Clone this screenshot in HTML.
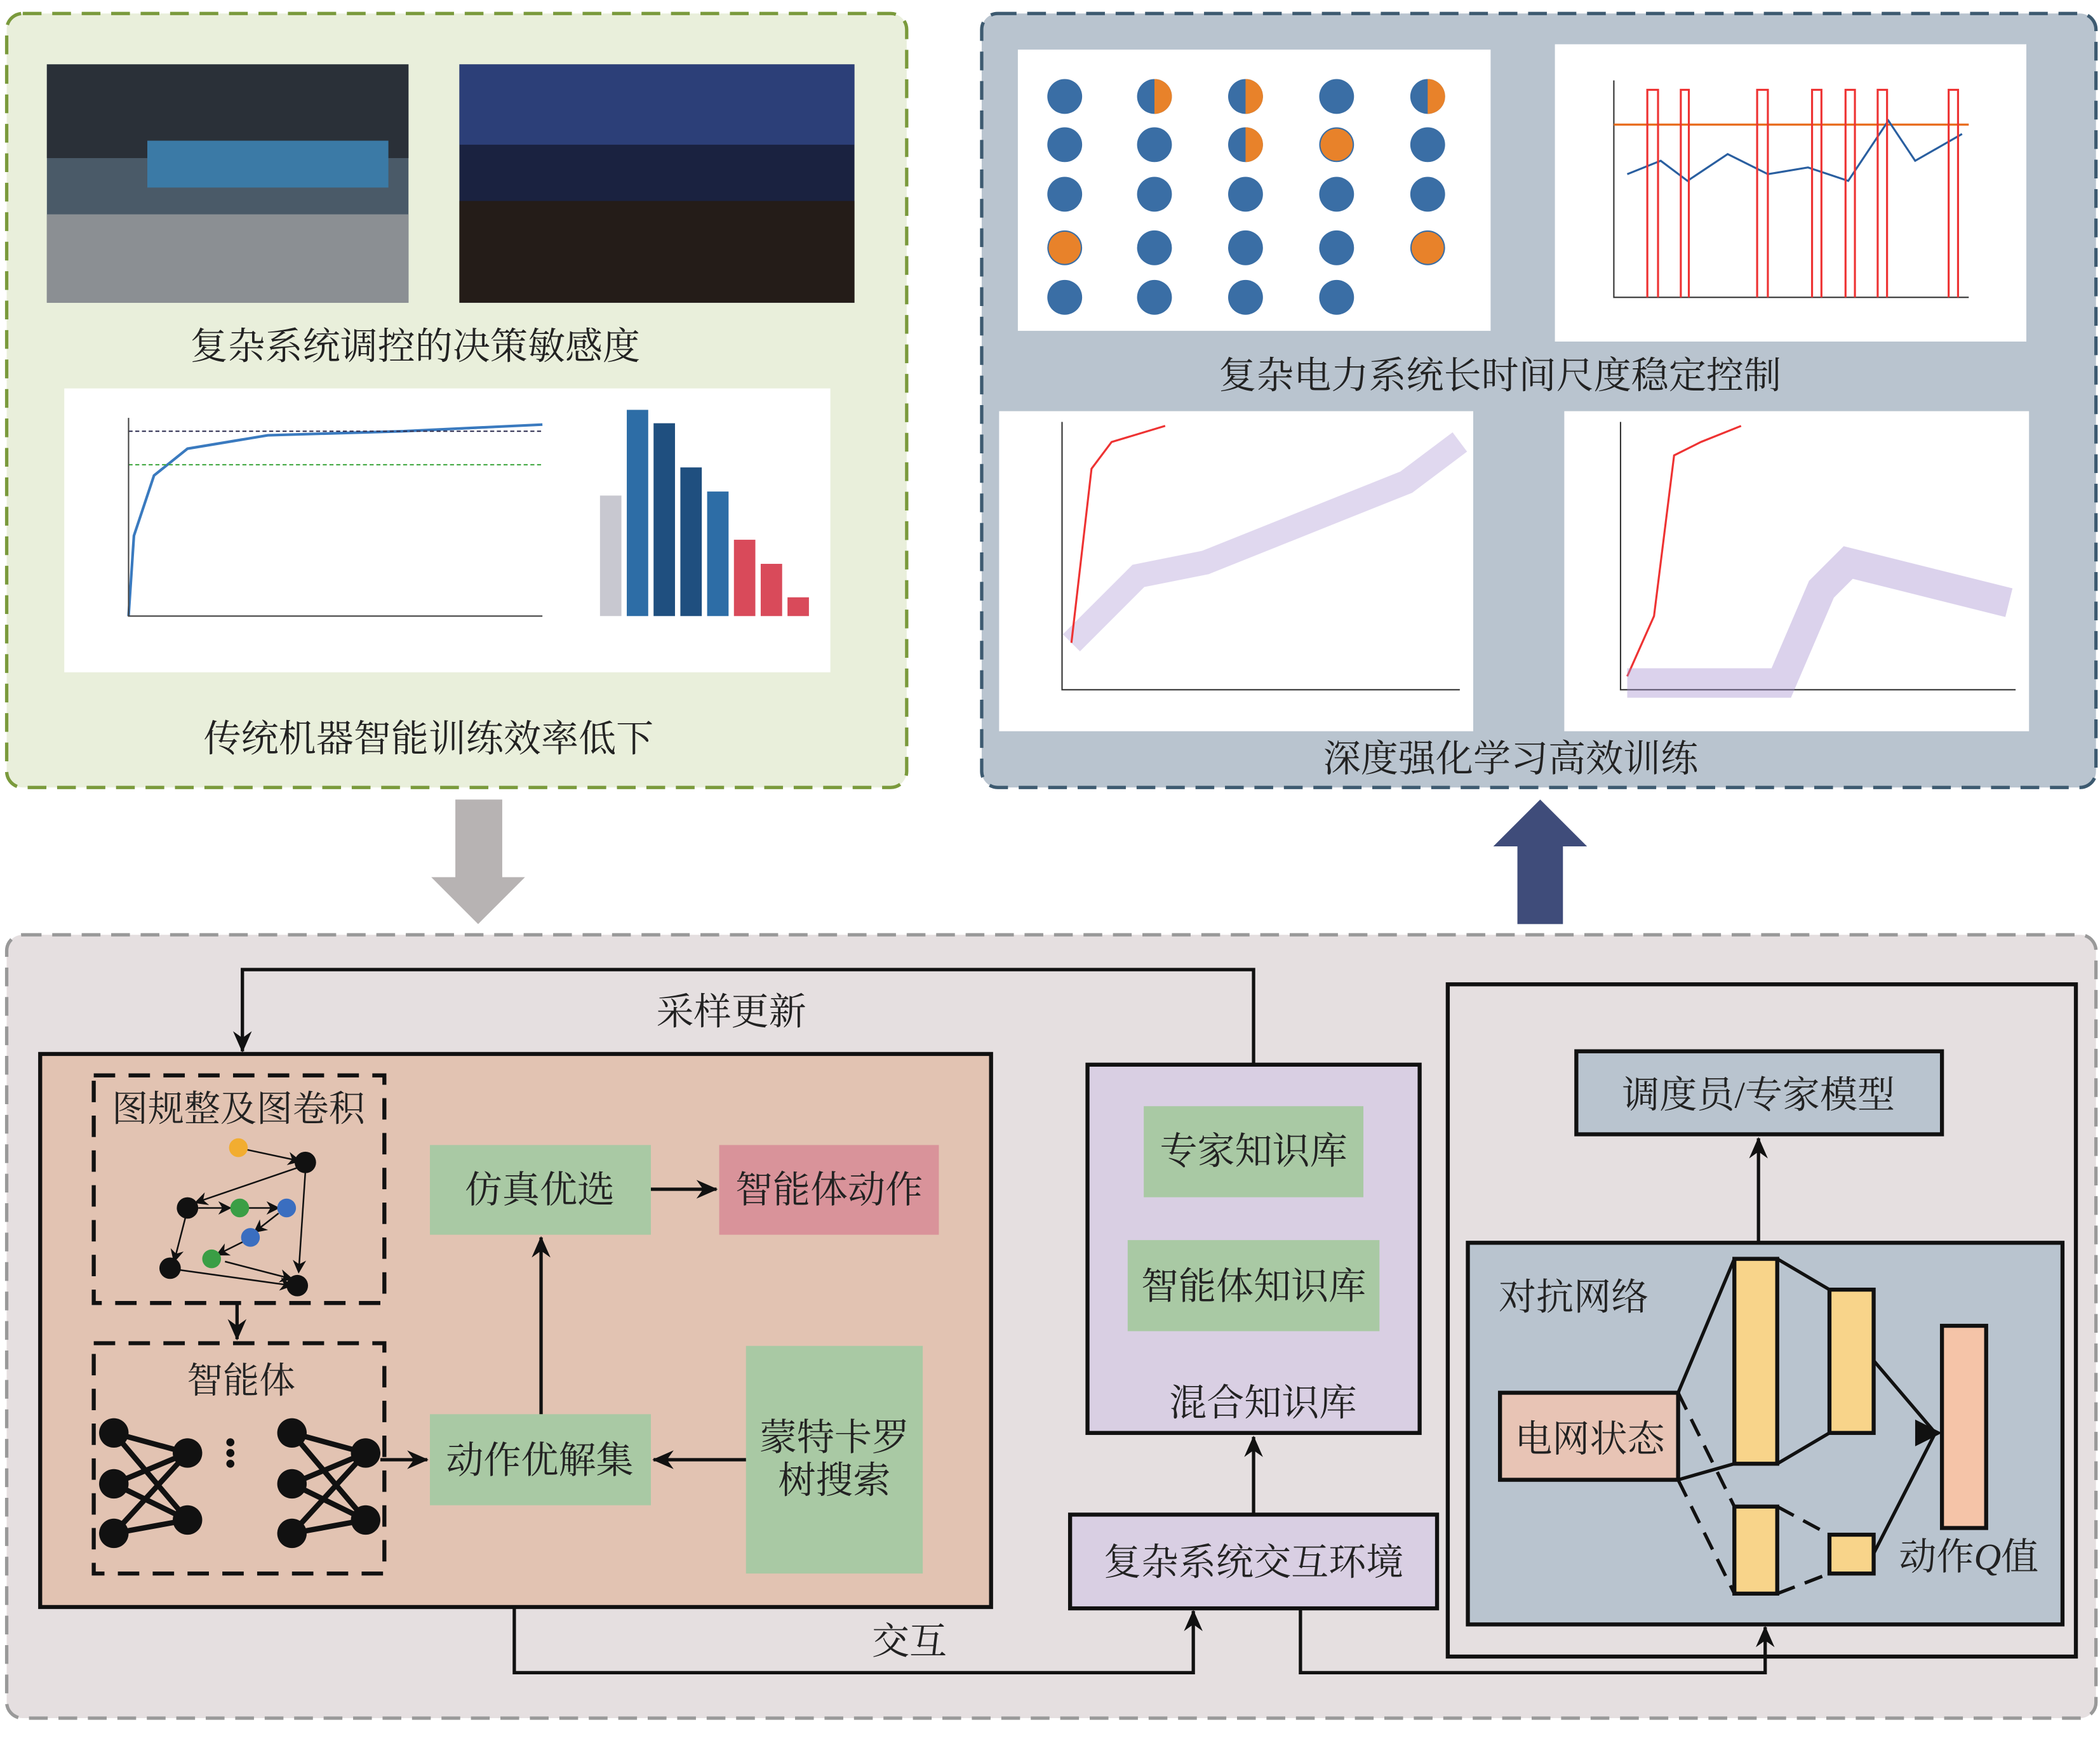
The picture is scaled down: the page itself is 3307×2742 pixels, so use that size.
<!DOCTYPE html><html><head><meta charset="utf-8"><style>body{margin:0}svg{display:block}text{font-family:"Liberation Serif","Noto Serif CJK SC","Noto Sans CJK SC",serif;fill:#222}</style></head><body>
<svg width="3307" height="2742" viewBox="0 0 1568 1300" xmlns="http://www.w3.org/2000/svg">
<defs><marker id="a" markerWidth="10" markerHeight="10" refX="9" refY="5" orient="auto" markerUnits="userSpaceOnUse"><path d="M0,0 L10,5 L0,10 L3,5z" fill="#111"/></marker>
<marker id="b" markerWidth="16" markerHeight="16" refX="15" refY="8" orient="auto" markerUnits="userSpaceOnUse"><path d="M0,1 L16,8 L0,15 L5,8z" fill="#111"/></marker></defs>
<rect width="1568" height="1300" fill="#fff"/>
<!-- top left -->
<rect x="5" y="10" width="672" height="578" rx="12" fill="#e9efdb" stroke="#7a9a3c" stroke-width="2.5" stroke-dasharray="14 8"/>
<rect x="35" y="48" width="270" height="178" fill="#4a5a68"/><rect x="35" y="48" width="270" height="70" fill="#2a3038"/><rect x="110" y="105" width="180" height="35" fill="#3b7aa6"/><rect x="35" y="160" width="270" height="66" fill="#8b8f93"/>
<rect x="343" y="48" width="295" height="178" fill="#1a2240"/><rect x="343" y="48" width="295" height="60" fill="#2c3f78"/><rect x="343" y="150" width="295" height="76" fill="#241c18"/>
<text x="310" y="268" font-size="28" text-anchor="middle">复杂系统调控的决策敏感度</text>
<rect x="48" y="290" width="572" height="212" fill="#fff"/>
<path d="M96,460 L100,400 L115,355 L140,335 L200,325 L300,322 L405,317" fill="none" stroke="#3a7abf" stroke-width="2"/>
<path d="M96,322 H405" stroke="#335" stroke-dasharray="3 2"/><path d="M96,347 H405" stroke="#4a4" stroke-dasharray="3 2"/>
<path d="M96,312 V460 H405" fill="none" stroke="#444"/>
<rect x="448" y="370" width="16" height="90" fill="#c8c8d0"/><rect x="468" y="306" width="16" height="154" fill="#2d6da6"/><rect x="488" y="316" width="16" height="144" fill="#1f4f7f"/><rect x="508" y="349" width="16" height="111" fill="#1f4f7f"/><rect x="528" y="367" width="16" height="93" fill="#2d6da6"/><rect x="548" y="403" width="16" height="57" fill="#d94a5a"/><rect x="568" y="421" width="16" height="39" fill="#d94a5a"/><rect x="588" y="446" width="16" height="14" fill="#d94a5a"/>
<text x="320" y="561" font-size="28" text-anchor="middle">传统机器智能训练效率低下</text>
<!-- top right -->
<rect x="733" y="10" width="832" height="578" rx="12" fill="#b9c4cf" stroke="#3d5a70" stroke-width="2.5" stroke-dasharray="14 8"/>
<rect x="760" y="37" width="353" height="210" fill="#fff"/>
<g fill="#3a6ea5"><circle cx="795" cy="72" r="13"/><circle cx="862" cy="72" r="13"/><circle cx="930" cy="72" r="13"/><circle cx="998" cy="72" r="13"/><circle cx="1066" cy="72" r="13"/><circle cx="795" cy="108" r="13"/><circle cx="862" cy="108" r="13"/><circle cx="930" cy="108" r="13"/><circle cx="998" cy="108" r="13"/><circle cx="1066" cy="108" r="13"/><circle cx="795" cy="145" r="13"/><circle cx="862" cy="145" r="13"/><circle cx="930" cy="145" r="13"/><circle cx="998" cy="145" r="13"/><circle cx="1066" cy="145" r="13"/><circle cx="795" cy="185" r="13"/><circle cx="862" cy="185" r="13"/><circle cx="930" cy="185" r="13"/><circle cx="998" cy="185" r="13"/><circle cx="1066" cy="185" r="13"/><circle cx="795" cy="222" r="13"/><circle cx="862" cy="222" r="13"/><circle cx="930" cy="222" r="13"/><circle cx="998" cy="222" r="13"/></g>
<g fill="#e8822a"><path d="M862,59 A13,13 0 0 1 862,85z"/><path d="M930,59 A13,13 0 0 1 930,85z"/><path d="M1066,59 A13,13 0 0 1 1066,85z"/><circle cx="998" cy="108" r="12"/><circle cx="795" cy="185" r="12"/><circle cx="1066" cy="185" r="12"/><path d="M930,95 A13,13 0 0 1 930,121z"/></g>
<rect x="1161" y="33" width="352" height="222" fill="#fff"/>
<path d="M1205,60 V222 H1470" fill="none" stroke="#333"/><path d="M1205,93 H1470" stroke="#e86a1a" stroke-width="1.5"/>
<path d="M1215,130 L1240,120 L1260,135 L1290,115 L1320,130 L1350,125 L1380,135 L1410,90 L1430,120 L1465,100" fill="none" stroke="#2a5fa0" stroke-width="1.5"/>
<g fill="none" stroke="#e33" stroke-width="1.5"><path d="M1230,222V67H1238V222M1255,222V67H1261V222M1312,222V67H1320V222M1353,222V67H1360V222M1378,222V67H1385V222M1402,222V67H1409V222M1455,222V67H1462V222"/></g>
<text x="1120" y="290" font-size="28" text-anchor="middle">复杂电力系统长时间尺度稳定控制</text>
<rect x="746" y="307" width="354" height="239" fill="#fff"/><path d="M793,315 V515 H1090" fill="none" stroke="#333"/>
<path d="M800,480 L850,430 L900,420 L950,400 L1000,380 L1050,360 L1090,330" fill="none" stroke="#a58fd0" stroke-width="18" opacity=".35"/>
<path d="M800,480 L815,350 L830,330 L870,318" fill="none" stroke="#e33" stroke-width="1.5"/>
<rect x="1168" y="307" width="347" height="239" fill="#fff"/><path d="M1210,315 V515 H1505" fill="none" stroke="#333"/>
<path d="M1215,505 L1235,460 L1250,340 L1270,330 L1300,318" fill="none" stroke="#e33" stroke-width="1.5"/>
<path d="M1215,510 L1330,510 L1360,440 L1380,420 L1420,430 L1500,450" fill="none" stroke="#a58fd0" stroke-width="22" opacity=".4"/>
<text x="1128" y="576" font-size="28" text-anchor="middle">深度强化学习高效训练</text>
<!-- arrows -->
<path d="M340,597 H375 V655 H392 L357,690 L322,655 H340z" fill="#b7b3b3"/>
<path d="M1150,597 L1185,632 H1167 V690 H1133 V632 H1115z" fill="#3f4c7a"/>
<!-- bottom -->
<rect x="5" y="698" width="1560" height="585" rx="12" fill="#e5dfe0" stroke="#999" stroke-width="2.5" stroke-dasharray="14 8"/>
<rect x="30" y="787" width="710" height="413" fill="#e2c3b2" stroke="#111" stroke-width="3"/>
<path d="M936,795 V724 H181 V785" fill="none" stroke="#111" stroke-width="2.5" marker-end="url(#b)"/>
<text x="546" y="765" font-size="28" text-anchor="middle">采样更新</text>
<rect x="70" y="803" width="217" height="170" fill="none" stroke="#111" stroke-width="3" stroke-dasharray="16 10"/>
<text x="178" y="837" font-size="27" text-anchor="middle">图规整及图卷积</text>
<g stroke="#111" stroke-width="1.2" marker-end="url(#a)"><line x1="182" y1="858" x2="224" y2="867"/><line x1="222" y1="872" x2="146" y2="898"/><line x1="148" y1="902" x2="172" y2="902"/><line x1="185" y1="902" x2="208" y2="902"/><line x1="208" y1="906" x2="190" y2="920"/><line x1="182" y1="927" x2="162" y2="937"/><line x1="139" y1="907" x2="130" y2="942"/><line x1="168" y1="942" x2="218" y2="955"/><line x1="132" y1="948" x2="218" y2="960"/><line x1="228" y1="875" x2="223" y2="950"/></g>
<circle cx="178" cy="857" r="7" fill="#f2ad30"/><circle cx="228" cy="868" r="8" fill="#111"/><circle cx="140" cy="902" r="8" fill="#111"/><circle cx="179" cy="902" r="7" fill="#3a9e45"/><circle cx="214" cy="902" r="7" fill="#3a6ec0"/><circle cx="187" cy="924" r="7" fill="#3a6ec0"/><circle cx="158" cy="940" r="7" fill="#3a9e45"/><circle cx="127" cy="947" r="8" fill="#111"/><circle cx="222" cy="960" r="8" fill="#111"/>
<path d="M177,973 V1000" stroke="#111" stroke-width="2.5" marker-end="url(#b)"/>
<rect x="70" y="1003" width="217" height="172" fill="none" stroke="#111" stroke-width="3" stroke-dasharray="16 10"/>
<text x="180" y="1040" font-size="27" text-anchor="middle">智能体</text>
<g stroke="#111" stroke-width="4"><path d="M85,1070 L140,1085 M85,1070 L140,1135 M85,1108 L140,1085 M85,1108 L140,1135 M85,1145 L140,1085 M85,1145 L140,1135"/><path d="M218,1070 L273,1085 M218,1070 L273,1135 M218,1108 L273,1085 M218,1108 L273,1135 M218,1145 L273,1085 M218,1145 L273,1135"/></g>
<g fill="#111"><circle cx="85" cy="1070" r="11"/><circle cx="85" cy="1108" r="11"/><circle cx="85" cy="1145" r="11"/><circle cx="140" cy="1085" r="11"/><circle cx="140" cy="1135" r="11"/><circle cx="218" cy="1070" r="11"/><circle cx="218" cy="1108" r="11"/><circle cx="218" cy="1145" r="11"/><circle cx="273" cy="1085" r="11"/><circle cx="273" cy="1135" r="11"/><circle cx="172" cy="1077" r="3"/><circle cx="172" cy="1085" r="3"/><circle cx="172" cy="1093" r="3"/></g>
<path d="M284,1090 H319" stroke="#111" stroke-width="2.5" marker-end="url(#b)"/>
<rect x="321" y="855" width="165" height="67" fill="#a9c9a4"/><text x="403" y="898" font-size="28" text-anchor="middle">仿真优选</text>
<rect x="537" y="855" width="164" height="67" fill="#d9939a"/><text x="619" y="898" font-size="28" text-anchor="middle">智能体动作</text>
<path d="M486,888 H535" stroke="#111" stroke-width="2.5" marker-end="url(#b)"/>
<rect x="321" y="1056" width="165" height="68" fill="#a9c9a4"/><text x="403" y="1100" font-size="28" text-anchor="middle">动作优解集</text>
<path d="M404,1056 V924" stroke="#111" stroke-width="2.5" marker-end="url(#b)"/>
<rect x="557" y="1005" width="132" height="170" fill="#a9c9a4"/><text x="623" y="1083" font-size="28" text-anchor="middle">蒙特卡罗</text><text x="623" y="1115" font-size="28" text-anchor="middle">树搜索</text>
<path d="M557,1090 H488" stroke="#111" stroke-width="2.5" marker-end="url(#b)"/>
<rect x="812" y="795" width="248" height="275" fill="#d9cfe3" stroke="#111" stroke-width="3"/>
<rect x="854" y="826" width="164" height="68" fill="#a9c9a4"/><text x="936" y="869" font-size="28" text-anchor="middle">专家知识库</text>
<rect x="842" y="926" width="188" height="68" fill="#a9c9a4"/><text x="936" y="970" font-size="28" text-anchor="middle">智能体知识库</text>
<text x="943" y="1057" font-size="28" text-anchor="middle">混合知识库</text>
<rect x="799" y="1131" width="274" height="70" fill="#d9cfe3" stroke="#111" stroke-width="3"/><text x="936" y="1176" font-size="28" text-anchor="middle">复杂系统交互环境</text>
<path d="M936,1131 V1073" stroke="#111" stroke-width="2.5" marker-end="url(#b)"/>
<path d="M384,1200 V1249 H891 V1203" fill="none" stroke="#111" stroke-width="2.5" marker-end="url(#b)"/>
<text x="679" y="1235" font-size="28" text-anchor="middle">交互</text>
<path d="M971,1201 V1249 H1318 V1215" fill="none" stroke="#111" stroke-width="2.5" marker-end="url(#b)"/>
<rect x="1081" y="735" width="469" height="502" fill="none" stroke="#111" stroke-width="3"/>
<rect x="1177" y="785" width="273" height="62" fill="#b9c4cf" stroke="#111" stroke-width="3"/><text x="1313" y="827" font-size="28" text-anchor="middle">调度员/专家模型</text>
<path d="M1313,928 V850" stroke="#111" stroke-width="2.5" marker-end="url(#b)"/>
<rect x="1096" y="928" width="444" height="285" fill="#b9c4cf" stroke="#111" stroke-width="3"/>
<text x="1175" y="978" font-size="28" text-anchor="middle">对抗网络</text>
<g stroke="#111" stroke-width="2.5" fill="none"><path d="M1253,1040 L1295,940 M1253,1105 L1295,1093 M1327,940 L1366,963 M1327,1093 L1366,1070"/><path d="M1253,1040 L1295,1125 M1253,1105 L1295,1190 M1327,1125 L1366,1146 M1327,1190 L1366,1175" stroke-dasharray="14 8"/><path d="M1399,1016 L1445,1070 M1399,1160 L1445,1070"/></g>
<path d="M1430,1060 L1450,1070 L1430,1080z" fill="#111"/>
<rect x="1120" y="1040" width="133" height="65" fill="#e8c4b5" stroke="#111" stroke-width="3"/><text x="1187" y="1084" font-size="28" text-anchor="middle">电网状态</text>
<g fill="#f8d48a" stroke="#111" stroke-width="3"><rect x="1295" y="940" width="32" height="153"/><rect x="1366" y="963" width="33" height="107"/><rect x="1295" y="1125" width="32" height="65"/><rect x="1366" y="1146" width="33" height="29"/></g>
<rect x="1450" y="990" width="33" height="151" fill="#f5c4a8" stroke="#111" stroke-width="3"/>
<text x="1470" y="1172" font-size="28" text-anchor="middle">动作<tspan font-style="italic">Q</tspan>值</text>
</svg></body></html>
